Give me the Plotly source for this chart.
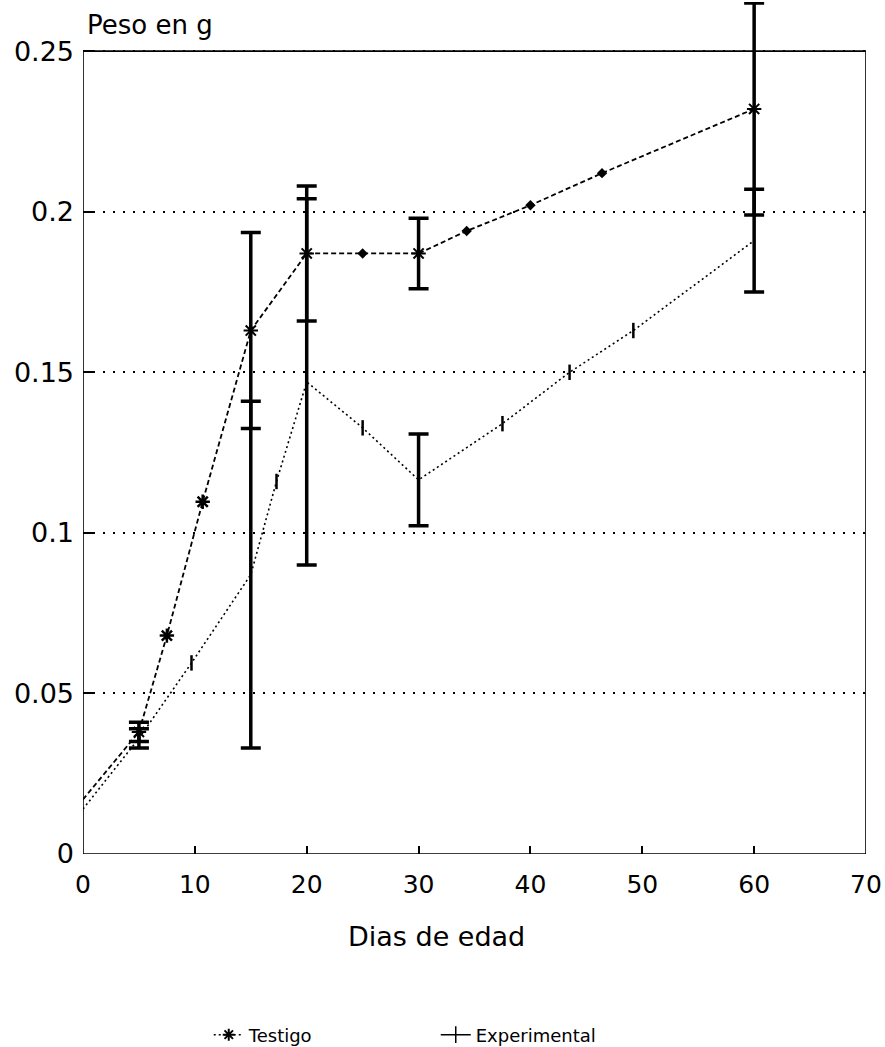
import plotly.graph_objects as go

# ---- data ----
dias = [5, 15, 20, 30, 60]
testigo_media = [0.038, 0.163, 0.187, 0.187, 0.232]
testigo_de = [0.003, 0.0305, 0.021, 0.011, 0.033]
experimental_media = [0.036, 0.087, 0.147, 0.1165, 0.191]
experimental_de = [0.003, 0.054, 0.057, 0.0143, 0.016]

# line start at day 0
testigo_inicio = 0.017
experimental_inicio = 0.014

# extra plotted marks along the lines
testigo_ast_x = [7.5, 10.7]
testigo_ast_y = [0.068, 0.1097]
testigo_pto_x = [25, 34.3, 40, 46.4]
testigo_pto_y = [0.187, 0.194, 0.202, 0.212]
exp_marca_x = [9.7, 17.3, 25, 37.5, 43.5, 49.2]
exp_marca_y = [0.0595, 0.116, 0.1327, 0.134, 0.150, 0.163]

x_ticks = [0, 10, 20, 30, 40, 50, 60, 70]
y_ticks = [0, 0.05, 0.1, 0.15, 0.2, 0.25]
y_ticktext = ["0", "0.05", "0.1", "0.15", "0.2", "0.25"]

FONT = "DejaVu Sans"


def sorted_xy(xs, ys):
    pts = sorted(zip(xs, ys))
    return [p[0] for p in pts], [p[1] for p in pts]


tx, ty = sorted_xy([0] + dias + testigo_ast_x + testigo_pto_x,
                   [testigo_inicio] + testigo_media + testigo_ast_y + testigo_pto_y)
ex, ey = sorted_xy([0] + dias + exp_marca_x,
                   [experimental_inicio] + experimental_media + exp_marca_y)

fig = go.Figure()

# lines
fig.add_trace(go.Scatter(x=tx, y=ty, mode="lines", showlegend=False,
                         line=dict(color="black", width=1.8, dash="5px,3px"),
                         cliponaxis=False))
fig.add_trace(go.Scatter(x=ex, y=ey, mode="lines", showlegend=False,
                         line=dict(color="black", width=1.6, dash="2px,3px"),
                         cliponaxis=False))

# error bars
fig.add_trace(go.Scatter(x=dias, y=experimental_media, mode="markers", showlegend=False,
                         marker=dict(symbol="line-ns-open", size=6, color="black",
                                     line=dict(color="black", width=2)),
                         error_y=dict(type="data", array=experimental_de, visible=True,
                                      color="black", thickness=3.5, width=10),
                         cliponaxis=False))
fig.add_trace(go.Scatter(x=dias, y=testigo_media, mode="markers", showlegend=False,
                         marker=dict(symbol="asterisk-open", size=12, color="black",
                                     line=dict(color="black", width=2)),
                         error_y=dict(type="data", array=testigo_de, visible=True,
                                      color="black", thickness=3.5, width=10),
                         cliponaxis=False))

# extra marks
fig.add_trace(go.Scatter(x=testigo_ast_x, y=testigo_ast_y, mode="markers", showlegend=False,
                         marker=dict(symbol="asterisk-open", size=12, color="black",
                                     line=dict(color="black", width=2.5))))
fig.add_trace(go.Scatter(x=testigo_pto_x, y=testigo_pto_y, mode="markers", showlegend=False,
                         marker=dict(symbol="diamond", size=8, color="black")))
fig.add_trace(go.Scatter(x=exp_marca_x, y=exp_marca_y, mode="markers", showlegend=False,
                         marker=dict(symbol="line-ns-open", size=11, color="black",
                                     line=dict(color="black", width=2.5))))

# legend entries
fig.add_trace(go.Scatter(x=[None], y=[None], mode="lines+markers", name="Testigo",
                         line=dict(color="black", width=1.5, dash="2px,3px"),
                         marker=dict(symbol="asterisk-open", size=10, color="black",
                                     line=dict(color="black", width=2))))
fig.add_trace(go.Scatter(x=[None], y=[None], mode="lines+markers", name="Experimental",
                         line=dict(color="black", width=1.5),
                         marker=dict(symbol="line-ns-open", size=12, color="black",
                                     line=dict(color="black", width=1.5))))

# frame
fig.add_shape(type="rect", xref="x", yref="y", x0=0, x1=70, y0=0, y1=0.25,
              line=dict(color="black", width=1.6), layer="above")

fig.add_annotation(text="Peso en g", xref="paper", yref="paper", x=0.003, y=0.973,
                   xanchor="left", yanchor="middle", showarrow=False,
                   font=dict(family=FONT, size=26, color="black"))
fig.add_annotation(text="Dias de edad", xref="paper", yref="paper", x=0.451, y=-0.0974,
                   xanchor="center", yanchor="middle", showarrow=False,
                   font=dict(family=FONT, size=27, color="black"))

fig.update_layout(
    width=885, height=1047,
    margin=dict(l=83, r=19, t=2, b=193, autoexpand=False),
    paper_bgcolor="white", plot_bgcolor="white",
    font=dict(family=FONT, color="black"),
    showlegend=True,
    legend=dict(orientation="h", x=0.1606, y=-0.2124, xanchor="left", yanchor="middle",
                font=dict(family=FONT, size=18, color="black"),
                entrywidth=182, entrywidthmode="pixels", bgcolor="rgba(0,0,0,0)"),
    xaxis=dict(range=[0, 70], tickvals=x_ticks, ticks="inside", ticklen=8, tickwidth=1.5,
               tickcolor="black", showgrid=False, zeroline=False, showline=False,
               tickfont=dict(family=FONT, size=25, color="black"), ticklabelstandoff=13),
    yaxis=dict(range=[0, 0.2653], tickvals=y_ticks, ticktext=y_ticktext, ticks="inside",
               ticklen=12, tickwidth=1.5, tickcolor="black", showgrid=True,
               gridcolor="black", gridwidth=1.5, griddash="2px,8px", zeroline=False,
               showline=False, tickfont=dict(family=FONT, size=27, color="black"),
               ticklabelstandoff=8),
)

fig.write_html("out.html")
